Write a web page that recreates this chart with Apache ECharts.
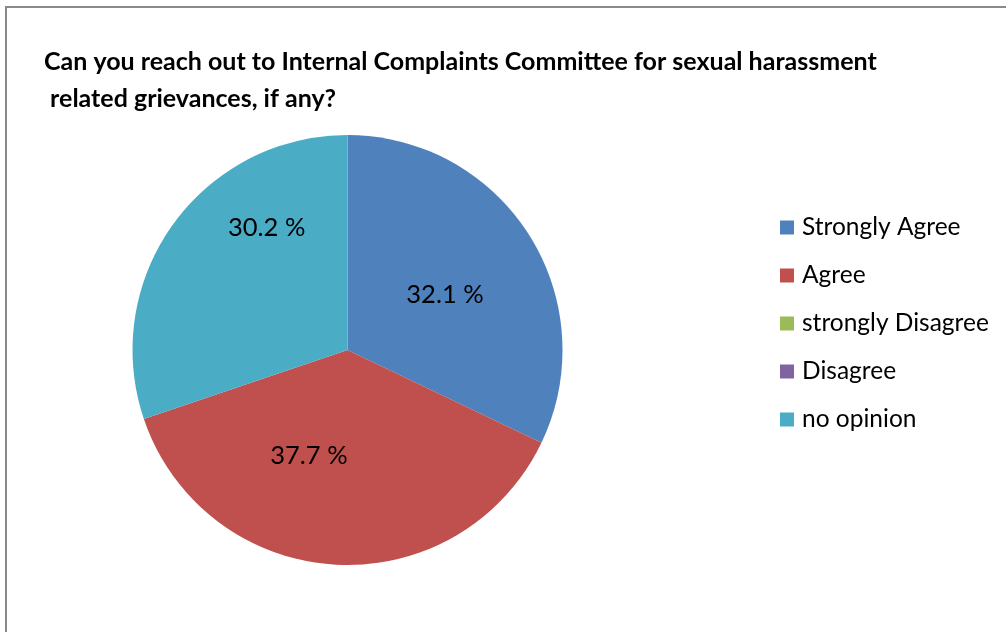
<!DOCTYPE html>
<html>
<head>
<meta charset="utf-8">
<style>
  html, body { margin: 0; padding: 0; background: #ffffff; }
  #chart { width: 1006px; height: 632px; }
</style>
<script src="https://cdn.jsdelivr.net/npm/echarts@6/dist/echarts.min.js"></script>
</head>
<body>
<div id="chart"></div>
<script>
// Survey answers (percent of respondents)
const categories = ['Strongly Agree', 'Agree', 'strongly Disagree', 'Disagree', 'no opinion'];
const percentages = [32.1, 37.7, 0, 0, 30.2];

// Presentation settings
const sliceColors = ['#4F81BD', '#C0504D', '#9BBB59', '#8064A2', '#4BACC6'];
const labelOffsets = [[4, 4], [-32, -5], [0, 0], [0, 0], [9, -58]];
const titleText = 'Can you reach out to Internal Complaints Committee for sexual harassment\n related grievances, if any?';

const chart = echarts.init(document.getElementById('chart'), null, { renderer: 'canvas' });

const pieData = categories.map((name, i) => ({
  name: name,
  value: percentages[i],
  itemStyle: { color: sliceColors[i] },
  label: { offset: labelOffsets[i] }
}));

chart.setOption({
  animation: false,
  backgroundColor: '#ffffff',
  title: {
    text: titleText,
    left: 44,
    top: 43,
    padding: 0,
    textStyle: {
      fontFamily: 'Lato',
      fontWeight: 'bold',
      fontSize: 25,
      lineHeight: 37,
      color: '#000000'
    }
  },
  legend: {
    orient: 'vertical',
    left: 780,
    top: 215,
    padding: 0,
    itemWidth: 14,
    itemHeight: 14,
    itemGap: 23,
    icon: 'rect',
    selectedMode: false,
    data: categories,
    textStyle: {
      fontFamily: 'Lato',
      fontSize: 24.5,
      lineHeight: 24,
      color: '#000000',
      padding: [0, 0, 0, 3]
    }
  },
  graphic: [{
    type: 'rect',
    silent: true,
    shape: { x: 6, y: 7, width: 1020, height: 650 },
    style: { fill: 'none', stroke: '#898989', lineWidth: 2 }
  }],
  series: [{
    type: 'pie',
    center: [347.5, 350],
    radius: [0, 215],
    startAngle: 90,
    clockwise: true,
    avoidLabelOverlap: false,
    itemStyle: { borderWidth: 0 },
    emphasis: { disabled: true },
    label: {
      show: true,
      position: 'inside',
      fontFamily: 'Lato',
      fontSize: 25.5,
      color: '#000000',
      formatter: p => (p.value > 0 ? p.value.toFixed(1) + ' %' : '')
    },
    labelLine: { show: false },
    data: pieData
  }]
});
</script>
</body>
</html>
